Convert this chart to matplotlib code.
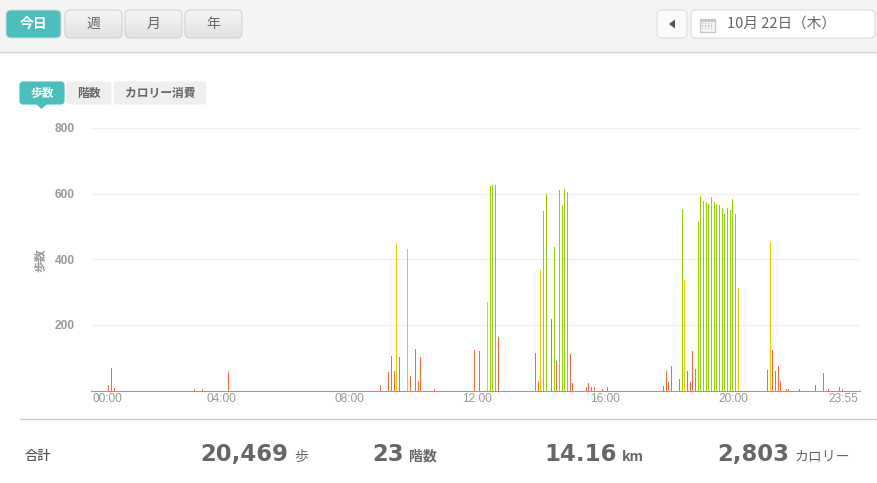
import numpy as np
import matplotlib
matplotlib.use('Agg')
import matplotlib.pyplot as plt
from matplotlib.patches import FancyBboxPatch, Polygon, Rectangle

plt.rcParams['font.family'] = ['Noto Sans CJK JP', 'DejaVu Sans']

# five minute slots of the day, 0 = 00:00, 287 = 23:55
red_slots = [6, 7, 8, 38, 41, 51, 108, 111, 112, 113, 115, 119, 121, 122, 123, 128,
             143, 145, 152, 166, 167, 172, 174, 179, 180, 185, 186, 187, 188, 191, 193,
             214, 215, 216, 217, 220, 223, 224, 225, 226,
             253, 255, 256, 257, 258, 260, 261, 265, 271, 274, 276, 280, 281]
red_steps = [18, 68, 9, 4, 4, 55, 18, 55, 105, 58, 101, 43, 126, 28, 101, 6,
             123, 120, 163, 114, 28, 218, 89, 111, 22, 12, 22, 12, 12, 4, 10,
             15, 58, 25, 74, 34, 58, 25, 120, 65,
             62, 123, 58, 74, 28, 6, 4, 4, 18, 52, 4, 12, 6]

yellow_slots = [114, 118, 148, 168, 222, 242, 254]
yellow_steps = [449, 430, 270, 366, 338, 311, 452]

green_slots = [149, 150, 151, 169, 170, 173, 175, 176, 177, 178,
               221, 227, 228, 229, 230, 231, 232, 233, 234, 235, 236, 237, 238, 239, 240, 241]
green_steps = [624, 627, 627, 547, 600, 437, 612, 563, 615, 606,
               553, 513, 593, 578, 575, 569, 590, 575, 569, 566, 557, 538, 557, 550, 584, 538]

tick_slots = [0, 48, 96, 144, 192, 240, 287]
tick_labels = ['00:00', '04:00', '08:00', '12:00', '16:00', '20:00', '23:55']
y_ticks = [200, 400, 600, 800]

W, H = 877, 483
TEAL = '#4bbfbe'
TEXT = '#666666'


def button(ov, x0, y0, x1, y1, edge='#d2d2d2', face=None, grad=None, r=5):
    # rounded box, optionally filled with a top to bottom gradient
    box = FancyBboxPatch((x0 + r, y0 + r), x1 - x0 - 2 * r, y1 - y0 - 2 * r,
                         boxstyle='round,pad=%d,rounding_size=%d' % (r, r),
                         fc=face if face else 'none', ec=edge, lw=0.8, zorder=2)
    ov.add_patch(box)
    if grad:
        g = np.linspace(grad[0], grad[1], 64).reshape(-1, 1)
        im = ov.imshow(g, cmap='gray', vmin=0, vmax=1, extent=(x0, x1, y1, y0),
                       aspect='auto', zorder=1.5)
        im.set_clip_path(box)


fig = plt.figure(figsize=(W / 100, H / 100), dpi=100, facecolor='white')

# overlay in pixel coordinates for the page around the chart
ov = fig.add_axes([0, 0, 1, 1])
ov.set_xlim(0, W)
ov.set_ylim(H, 0)
ov.axis('off')

ov.add_patch(Rectangle((0, 0), W, 52, fc='#f4f4f4', ec='none', zorder=0))
ov.plot([0, W], [52.0, 52.0], color='#d2d2d2', lw=1, zorder=1)
ov.plot([20, W], [419.0, 419.0], color='#cfcfcf', lw=1, zorder=1)

button(ov, 6, 10, 61, 38, edge='#c9dede', face=TEAL)
ov.text(33.5, 24, '今日', color='white', fontsize=10, fontweight='bold', ha='center', va='center', zorder=3)
for x0, x1, s in [(65, 122, '週'), (125, 182, '月'), (185, 242, '年')]:
    button(ov, x0, 10, x1, 38, grad=(0.96, 0.885))
    ov.text((x0 + x1) / 2, 24, s, color=TEXT, fontsize=10, ha='center', va='center', zorder=3)

button(ov, 657, 10, 687, 38, edge='#dddddd', face='#fafafa')
ov.add_patch(Polygon([[669, 24], [675, 19.5], [675, 28.5]], fc='#555555', ec='none', zorder=3))
button(ov, 691, 10, 875, 38, edge='#dddddd', face='white')
ov.text(727, 23.5, '10月 22日（木）', color=TEXT, fontsize=10.5, ha='left', va='center', zorder=3)

# calendar icon
ov.add_patch(Rectangle((699.5, 18.5), 15, 13.5, fc='#f4f4f4', ec='#c8c8c8', lw=0.9, zorder=3))
ov.add_patch(Rectangle((699.5, 18.5), 15, 3, fc='#c8c8c8', ec='none', zorder=3))
for gx in [702.5, 705.5, 708.5, 711.5]:
    for gy in [23.5, 26, 28.5]:
        ov.add_patch(Rectangle((gx - 0.6, gy - 0.6), 1.4, 1.4, fc='#c4c4c4', ec='none', zorder=3))

# tabs above the chart
button(ov, 20, 82, 64, 104, edge=TEAL, face=TEAL, r=3)
ov.add_patch(Polygon([[36, 104], [47, 104], [41.5, 109]], fc=TEAL, ec='none', zorder=3))
ov.text(42, 93, '歩数', color='white', fontsize=8.5, fontweight='bold', ha='center', va='center', zorder=3)
for x0, x1, s in [(67, 111, '階数'), (114, 206, 'カロリー消費')]:
    button(ov, x0, 82, x1, 104, edge='#efefef', face='#efefef', r=3)
    ov.text((x0 + x1) / 2, 93, s, color=TEXT, fontsize=8.5, fontweight='bold', ha='center', va='center', zorder=3)

ov.text(39.5, 260, '歩数', color='#999999', fontsize=8.5, fontweight='bold', rotation=90, ha='center', va='center')

# totals row
ov.text(25, 460, '合計', color='#555555', fontsize=9.5, fontweight='medium', ha='left', va='baseline')
for x, s in [(200.5, '20,469'), (372.5, '23'), (544.5, '14.16'), (717.5, '2,803')]:
    ov.text(x, 461, s, color=TEXT, family='DejaVu Sans', fontsize=16.4, fontweight='bold', ha='left', va='baseline')
for x, s, w in [(294, '歩', 'normal'), (409, '階数', 'bold'), (622, 'km', 'bold'), (794, 'カロリー', 'normal')]:
    ov.text(x, 461, s, color=TEXT, fontsize=10, fontweight=w, ha='left', va='baseline')

# the step chart itself
ax = fig.add_axes([91 / W, 1 - 390.5 / H, (860 - 91) / W, (390.5 - 128) / H])
ax.patch.set_alpha(0)
slot_px = 8 / 3
ax.set_xlim((91 - 92.9) / slot_px, (860 - 92.9) / slot_px)
ax.set_ylim(0, 800)

ax.bar(red_slots, red_steps, width=0.4, color='#ff6633', linewidth=0, zorder=3)
ax.bar(yellow_slots, yellow_steps, width=0.4, color='#ffc000', linewidth=0, zorder=3)
ax.bar(green_slots, green_steps, width=0.4, color='#8cd600', linewidth=0, zorder=3)

ax.set_yticks(y_ticks)
ax.set_yticklabels([str(v) for v in y_ticks], family='Liberation Sans', fontweight='bold',
                   fontsize=8.6, color='#999999')
ax.grid(axis='y', color='#f1f1f1', lw=1, zorder=0)
ax.tick_params(axis='y', length=0, pad=11.5)

ax.set_xticks(tick_slots)
ax.set_xticklabels(tick_labels, family='Liberation Sans', fontsize=8.6, color='#999999')
ax.tick_params(axis='x', length=0, pad=2)
xlabels = ax.get_xticklabels()
xlabels[0].set_ha('left')
xlabels[-1].set_ha('right')

for side in ['top', 'left', 'right']:
    ax.spines[side].set_visible(False)
ax.spines['bottom'].set_color('#999999')
ax.spines['bottom'].set_linewidth(0.75)
ax.set_axisbelow(True)

fig.savefig('out.png', dpi=100)
